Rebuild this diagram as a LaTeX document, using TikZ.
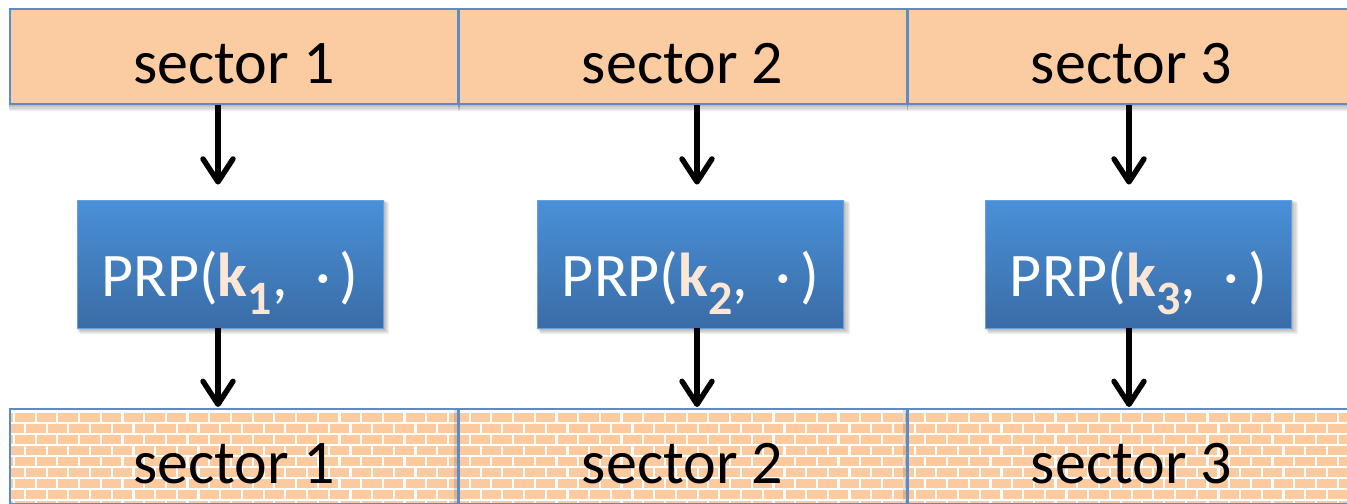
\documentclass[tikz,border=0pt]{standalone}
\usepackage{fontspec}
\setmainfont{Carlito}
\usetikzlibrary{arrows.meta}
\pgfdeclarelayer{background}
\pgfsetlayers{background,main}
\definecolor{peach}{HTML}{FBCBA1}
\definecolor{brick}{HTML}{FBCB9F}
\definecolor{edge}{HTML}{5B8BC9}
\definecolor{prptop}{HTML}{4A90D8}
\definecolor{prpbot}{HTML}{3A6CA6}
\definecolor{keypeach}{HTML}{FCE6D6}
\tikzset{
  label font/.style={font=\fontsize{31}{36}\selectfont},
  sectorbox/.style={draw=edge, line width=1pt, fill=peach, minimum width=224pt,
    minimum height=47.5pt, inner sep=0pt, text height=26.5pt, text depth=0pt, label font},
  brickbox/.style={draw=edge, line width=1pt, minimum width=224pt,
    minimum height=47.5pt, inner sep=0pt, text height=26.5pt, text depth=0pt, label font},
  prpbox/.style={draw=prptop!85!white, line width=0.4pt, top color=prptop, bottom color=prpbot,
    minimum width=153pt, minimum height=64pt, inner sep=0pt, text height=32pt, text depth=0pt,
    text=white, label font},
  flow/.style={line width=2.7pt,
    -{Straight Barb[length=11.5pt,width=15pt,line width=2.7pt,round]}},
  brickcell/.style={fill=brick, draw=none}
}
\newcommand{\keytxt}[1]{\textcolor{keypeach}{\textbf{k}\raisebox{-0.3em}{\fontsize{24}{24}\selectfont\textbf{#1}}}}
\newcommand{\prptxt}[1]{PRP(\keytxt{#1},\hspace{0.45em}·\hspace{0.14em})}
\begin{document}
\begin{tikzpicture}[x=0.5pt, y=-0.5pt]
  \useasboundingbox (0,0) rectangle (1347,503);

  % plaintext sectors
  \node[sectorbox] (t1) at (234,56.5) {sector 1};
  \node[sectorbox] (t2) at (682.5,56.5) {sector 2};
  \node[sectorbox] (t3) at (1131.5,56.5) {sector 3};

  % block cipher boxes
  \node[prpbox] (p1) at (230,264) {\prptxt{1}};
  \node[prpbox] (p2) at (690.5,264) {\prptxt{2}};
  \node[prpbox] (p3) at (1138.5,264) {\prptxt{3}};

  % encrypted sectors
  \node[brickbox] (b1) at (234,456.5) {sector 1};
  \node[brickbox] (b2) at (682.5,456.5) {sector 2};
  \node[brickbox] (b3) at (1131.5,456.5) {sector 3};

  % soft shadows and brick texture
  \begin{pgfonlayer}{background}
    \foreach \n in {t1,t2,t3} {
      \foreach \i in {1,...,5}
        \fill[black, opacity=0.06]
          ([yshift=-\i*0.6pt]\n.south west) rectangle ([xshift=0.3pt]\n.north east);
    }
    \foreach \n in {p1,p2,p3} {
      \foreach \i in {1,...,5}
        \fill[black, opacity=0.06]
          ([xshift=\i*0.3pt, yshift=-\i*0.6pt]\n.south west) rectangle ([xshift=\i*0.6pt, yshift=-\i*0.3pt]\n.north east);
    }
    \begin{scope}
      \clip (b1.north west) rectangle (1360,504);
      \fill[white] (b1.north west) rectangle (1360,504);
      \foreach \r in {0,...,8} {
        \pgfmathsetmacro{\yy}{413.3+11*\r}
        \pgfmathsetmacro{\xo}{mod(\r,2)==0 ? 15 : 4.3}
        \foreach \c in {-1,...,62} {
          \fill[brickcell] ({\xo+21.7*\c},\yy) rectangle ++(19.5,8.3);
        }
      }
      \foreach \n in {b2,b3}
        \fill[black, opacity=0.12] (\n.north west) rectangle ([xshift=-2pt]\n.south west);
    \end{scope}
  \end{pgfonlayer}

  % arrow columns
  \coordinate (c1) at (218,0);
  \coordinate (c2) at (697,0);
  \coordinate (c3) at (1129,0);
  \foreach \i in {1,2,3} {
    \draw[flow, shorten >=7.5pt] (t\i.south -| c\i) -- (p\i.north -| c\i);
    \draw[flow, shorten >=0.5pt] (p\i.south -| c\i) -- (b\i.north -| c\i);
  }
\end{tikzpicture}
\end{document}
